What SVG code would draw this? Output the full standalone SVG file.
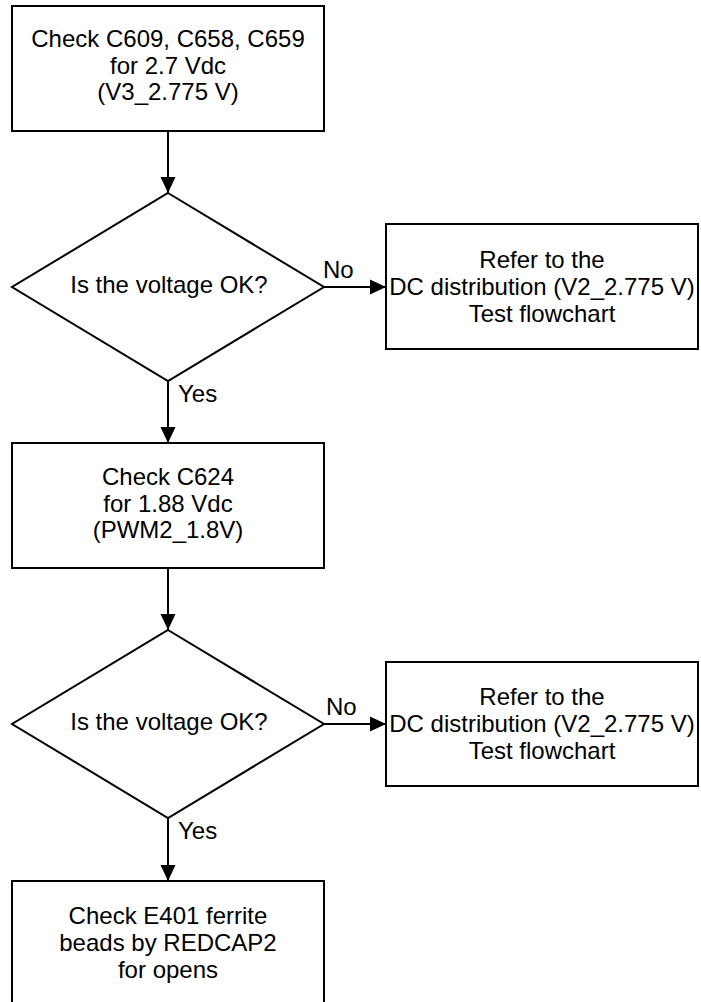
<svg xmlns="http://www.w3.org/2000/svg" width="701" height="1002" viewBox="0 0 701 1002">
<style>
.box{fill:#fff;stroke:#000;stroke-width:2}
.t{font-family:"Liberation Sans",Arial,sans-serif;font-size:24px;fill:#000;text-anchor:middle}
.l{font-family:"Liberation Sans",Arial,sans-serif;font-size:24px;fill:#000}
.c{fill:none;stroke:#000;stroke-width:2}
</style>
<defs>
<marker id="ah" markerUnits="userSpaceOnUse" markerWidth="16" markerHeight="16" viewBox="0 0 16 16" refX="16" refY="8" orient="auto">
<path d="M0,0.5 L16,8 L0,15.5 z" fill="#000"/>
</marker>
</defs>
<rect width="701" height="1002" fill="#fff"/>
<g id="connectors">
<line class="c" x1="168" y1="131" x2="168" y2="193" marker-end="url(#ah)"/>
<line class="c" x1="324" y1="287" x2="386" y2="287" marker-end="url(#ah)"/>
<line class="c" x1="168" y1="381" x2="168" y2="443" marker-end="url(#ah)"/>
<line class="c" x1="168" y1="568" x2="168" y2="630" marker-end="url(#ah)"/>
<line class="c" x1="324" y1="724" x2="386" y2="724" marker-end="url(#ah)"/>
<line class="c" x1="168" y1="818" x2="168" y2="881" marker-end="url(#ah)"/>
<text class="l" x="323" y="278">No</text>
<text class="l" x="178" y="402">Yes</text>
<text class="l" x="326" y="715">No</text>
<text class="l" x="178" y="839">Yes</text>
</g>
<g id="check1">
<rect class="box" x="12" y="6" width="312" height="125"/>
<text class="t" x="168" y="47">Check C609, C658, C659</text>
<text class="t" x="168" y="73.5">for 2.7 Vdc</text>
<text class="t" x="168" y="100">(V3_2.775 V)</text>
</g>
<g id="decision1">
<polygon class="box" points="168,193 324,287 168,381 12,287"/>
<text class="t" x="169" y="293">Is the voltage OK?</text>
</g>
<g id="refer1">
<rect class="box" x="386" y="224" width="312" height="125"/>
<text class="t" x="542" y="268">Refer to the</text>
<text class="t" x="542" y="294.5">DC distribution (V2_2.775 V)</text>
<text class="t" x="542" y="321.5">Test flowchart</text>
</g>
<g id="check2">
<rect class="box" x="12" y="443" width="312" height="125"/>
<text class="t" x="168" y="484.5">Check C624</text>
<text class="t" x="168" y="511.5">for 1.88 Vdc</text>
<text class="t" x="168" y="538">(PWM2_1.8V)</text>
</g>
<g id="decision2">
<polygon class="box" points="168,630 324,724 168,818 12,724"/>
<text class="t" x="169" y="730">Is the voltage OK?</text>
</g>
<g id="refer2">
<rect class="box" x="386" y="662" width="312" height="124"/>
<text class="t" x="542" y="704.5">Refer to the</text>
<text class="t" x="542" y="731.5">DC distribution (V2_2.775 V)</text>
<text class="t" x="542" y="758.5">Test flowchart</text>
</g>
<g id="check3">
<rect class="box" x="12" y="881" width="312" height="125"/>
<text class="t" x="168" y="923.5">Check E401 ferrite</text>
<text class="t" x="168" y="950.5">beads by REDCAP2</text>
<text class="t" x="168" y="977.5">for opens</text>
</g>
</svg>
